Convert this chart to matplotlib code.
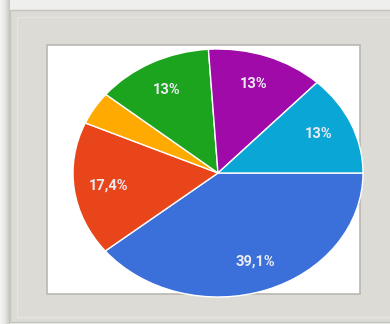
import numpy as np
import matplotlib.pyplot as plt
from matplotlib.patches import Rectangle
from matplotlib.colors import LinearSegmentedColormap

# answers out of 23 responses, clockwise from 3 o'clock
values = [39.1, 17.4, 4.3, 13.0, 13.0, 13.0]
labels = ['39,1%', '17,4%', '', '13%', '13%', '13%']
colors = ['#3b6fd9', '#e8451a', '#ffaa00', '#1ca41f', '#a00aa8', '#0aa6d6']

fig = plt.figure(figsize=(3.9, 3.24), dpi=100)
fig.patch.set_facecolor('#efefed')

# background / picture frame drawn in pixel coordinates
bg = fig.add_axes([0, 0, 1, 1])
bg.set_xlim(0, 390)
bg.set_ylim(324, 0)
bg.axis('off')

# soft shadow on the left of the frame
shade = LinearSegmentedColormap.from_list('shade', ['#f6f6f5', '#e6e6e4', '#c4c4c0'])
grad = np.linspace(0, 1, 64).reshape(1, -1)
bg.imshow(grad, extent=(0, 10, 324, 0), cmap=shade, aspect='auto', zorder=1)

bg.add_patch(Rectangle((10, 10), 390, 312, facecolor='#dcdbd5',
                       edgecolor='#c4c3bc', lw=1, zorder=2))
bg.add_patch(Rectangle((17, 17), 380, 300, facecolor='none',
                       edgecolor='#e6e5df', lw=1, zorder=2))
bg.add_patch(Rectangle((47, 45), 313, 249, facecolor='white',
                       edgecolor='#b9b8b2', lw=1.2, zorder=3))
clip = Rectangle((48, 46), 311, 247, transform=bg.transData)

# pie, stretched into an ellipse like the photographed screen
ax = fig.add_axes([73 / 390, 27 / 324, 290 / 390, 248 / 324])
ax.set_zorder(5)
ax.patch.set_alpha(0)
wedges, _ = ax.pie(values, colors=colors, startangle=0, counterclock=False,
                   wedgeprops=dict(edgecolor='white', linewidth=1.0))
ax.set_aspect('auto')
ax.set_xlim(-1, 1)
ax.set_ylim(-1, 1)
for w in wedges:
    w.set_clip_path(clip)

# percentage labels
start = 0.0
for v, lab in zip(values, labels):
    mid = np.deg2rad(start - v * 3.6 / 2)
    start -= v * 3.6
    if lab:
        ax.text(0.76 * np.cos(mid), 0.76 * np.sin(mid), lab, ha='center',
                va='center', color='#ecebf2', fontsize=10.5,
                family='Roboto', fontweight='bold')

fig.savefig('out.png', dpi=100)
